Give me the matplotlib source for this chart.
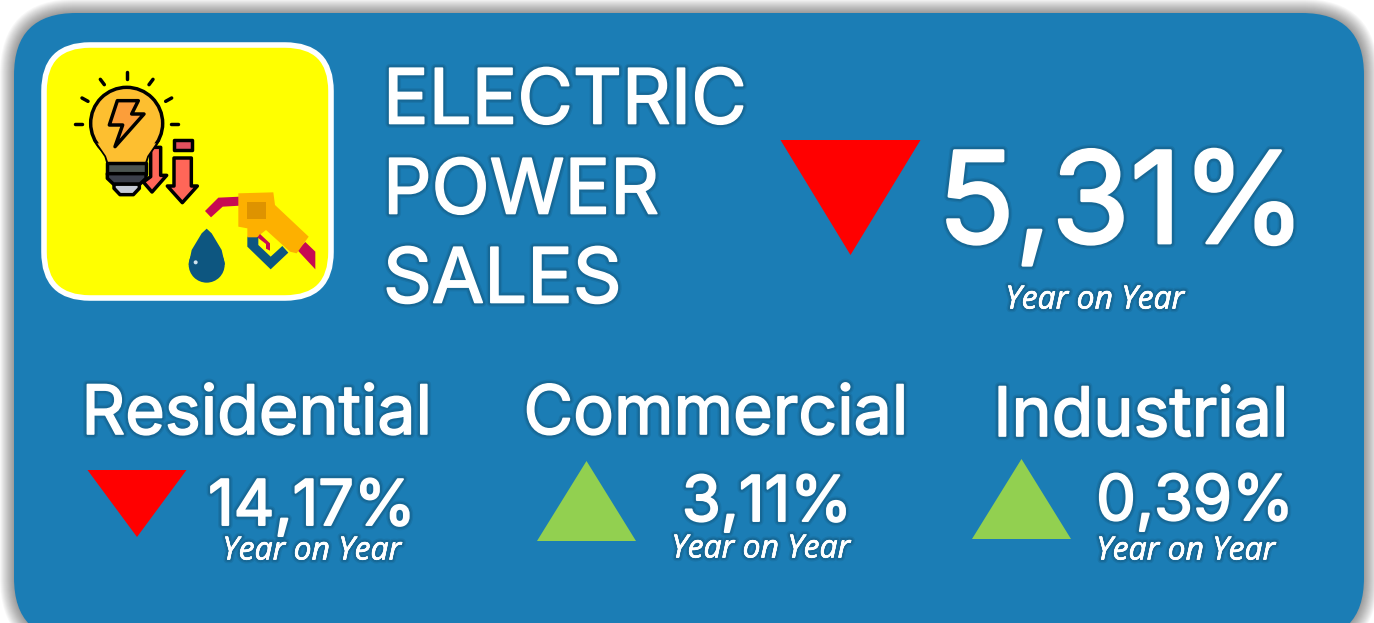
import matplotlib
matplotlib.use('Agg')
import matplotlib.pyplot as plt
import matplotlib.patheffects as pe
from matplotlib.patches import FancyBboxPatch, Polygon, Circle

plt.rcParams['font.family'] = ['Inter', 'Open Sans', 'DejaVu Sans']

# data
title_lines = ['ELECTRIC', 'POWER', 'SALES']
total_change = -5.31
period_label = 'Year on Year'
sectors = ['Residential', 'Commercial', 'Industrial']
sector_changes = [-14.17, 3.11, 0.39]

# colours
BLUE = '#1b7db5'
RED = '#ff0000'
GREEN = '#92d050'
YELLOW = '#ffff00'

fig = plt.figure(figsize=(13.74, 6.23), dpi=100)
ax = fig.add_axes([0, 0, 1, 1])
ax.set_xlim(0, 1374)
ax.set_ylim(623, 0)
ax.axis('off')


def glow(weight):
    # soft dark edge round the text, with a thin white stroke to make it heavier
    return [pe.withStroke(linewidth=weight + 5, foreground='black', alpha=0.07),
            pe.withStroke(linewidth=weight + 3, foreground='black', alpha=0.10),
            pe.withStroke(linewidth=weight, foreground='white')]


def px(size):
    # font size from pixels
    return size * 0.72


def fmt(v):
    return f'{abs(v):.2f}'.replace('.', ',') + '%'


def z(points):
    return [(30 + a / 3, 30 + b / 3) for a, b in points]


def rbox(x0, y0, x1, y1, r, **kw):
    p = FancyBboxPatch((x0, y0), x1 - x0, y1 - y0, boxstyle=f'round,pad=0,rounding_size={r}', **kw)
    ax.add_patch(p)
    return p


def triangle(cx, top, w, h, change):
    if change < 0:
        pts = [(cx - w / 2, top), (cx + w / 2, top), (cx, top + h)]
    else:
        pts = [(cx - w / 2, top + h), (cx + w / 2, top + h), (cx, top)]
    ax.add_patch(Polygon(pts, closed=True, fc=RED if change < 0 else GREEN, ec='none', zorder=3))


def poly(points, fc, ec='none', lw=0, zorder=5):
    ax.add_patch(Polygon(z(points), closed=True, fc=fc, ec=ec, lw=lw, zorder=zorder, joinstyle='round'))


# card with soft shadow
for i in range(14, 0, -1):
    rbox(14 - i, 13 - i, 1364 + i, 640 + i, 62 + i, fc='black', ec='none', alpha=0.032, zorder=1)
rbox(14, 13, 1364, 640, 62, fc=BLUE, ec='none', zorder=2)

# yellow icon tile
rbox(44, 45, 331, 298, 46, fc=YELLOW, ec='white', lw=4, zorder=3)

# arrows
arrow1 = [(362, 352), (392, 352), (392, 436), (410, 436), (366, 486), (340, 456), (362, 440)]
poly(arrow1, '#ff6658', 'black', 2.5, 4)
arrow2 = [(432, 384), (484, 384), (484, 468), (502, 468), (457, 518), (412, 468), (432, 468)]
poly(arrow2, '#ff6658', 'black', 2.5, 5)
poly([(431, 331), (485, 331), (485, 361), (431, 361)], '#e3505f', 'black', 2.5, 5)

# bulb: round head on a tapered neck
head = z([(290, 280)])[0]
neck = [(235, 402), (345, 402), (352, 378), (385, 330), (290, 300), (195, 330), (228, 378)]
poly(neck, '#fdbf30', 'black', 2.5, 6)
ax.add_patch(Circle(head, 36, fc='#fdbf30', ec='black', lw=2.5, zorder=6))
poly([(236, 402), (344, 402), (352, 378), (378, 340), (202, 340), (228, 378)], '#fdbf30', zorder=6)
poly([(262, 212), (325, 212), (305, 252), (342, 252), (255, 350), (278, 285), (238, 285)], '#fc9e3a', 'black', 2.5, 7)
poly([(232, 400), (348, 400), (348, 431), (232, 431)], '#4b5450', 'black', 2.5, 7)
poly([(232, 431), (348, 431), (348, 445), (330, 462), (250, 462), (232, 445)], '#3b3f4a', 'black', 2.5, 7)
poly([(252, 462), (328, 462), (328, 475), (310, 494), (270, 494), (252, 475)], '#c6cbd6', 'black', 2.5, 6)

# rays
rays = [((290, 127), (290, 146)), ((211, 148), (223, 164)), ((369, 148), (357, 164)), ((156, 204), (174, 214)),
        ((425, 204), (407, 214)), ((135, 281), (156, 281)), ((424, 281), (445, 281))]
for a, b in rays:
    pa, pb = z([a, b])
    ax.plot([pa[0], pb[0]], [pa[1], pb[1]], color='black', lw=2.5, solid_capstyle='round', zorder=6)

# fuel nozzle
poly([(525, 543), (565, 503), (630, 500), (630, 527), (578, 530), (543, 562)], '#c70a52')
poly([(652, 620), (685, 620), (685, 645), (722, 680), (757, 648), (775, 668), (722, 718), (652, 650)], '#0d5680')
poly([(690, 612), (720, 640), (720, 662), (708, 656), (708, 642), (682, 622)], '#c70a52', zorder=6)
poly([(625, 490), (730, 487), (735, 525), (836, 620), (800, 670), (780, 665), (708, 600), (680, 622), (652, 622),
      (652, 595), (625, 590)], '#fdb000', zorder=5)
poly([(652, 515), (708, 515), (708, 568), (652, 568)], '#de9300', zorder=6)
poly([(802, 660), (826, 636), (856, 665), (856, 718)], '#c70a52', zorder=4)

# drop
ax.add_patch(Circle(z([(530, 704)])[0], 18, fc='#0d5680', ec='none', zorder=5))
poly([(530, 596), (545, 610), (575, 660), (585, 704), (476, 704), (485, 660), (515, 610)], '#0d5680')
ax.add_patch(Circle(z([(497, 697)])[0], 2, fc='#cfe3ee', ec='none', zorder=6))

# title
for line, y in zip(title_lines, [96, 186, 275]):
    ax.text(383, y, line, fontsize=px(76), color='white', ha='left', va='center_baseline', path_effects=glow(1.2),
            zorder=4)

# headline figure
triangle(850.5, 140, 140, 115, total_change)
ax.text(1122, 197, fmt(total_change), fontsize=px(127), color='white', ha='center', va='center_baseline',
        path_effects=glow(2), zorder=4)
ax.text(1095, 300, period_label, fontsize=px(32), color='white', ha='center', va='center', style='italic',
        family=['Open Sans'], path_effects=glow(0.4), zorder=4)

# sectors
label_x = [257, 716, 1141]
label_y = [409, 409, 411]
tri_x = [137, 586.5, 1021.5]
tri_top = [470, 461, 459]
value_x = [312, 767, 1195]
value_y = [502, 498, 497]
period_x = [312, 761, 1186]
period_y = [551, 549, 551]
for i in range(len(sectors)):
    ax.text(label_x[i], label_y[i], sectors[i], fontsize=px(68), color='white', ha='center', va='center_baseline',
            path_effects=glow(1.2), zorder=4)
    h = 67 if sector_changes[i] < 0 else 80
    triangle(tri_x[i], tri_top[i], 99, h, sector_changes[i])
    ax.text(value_x[i], value_y[i], fmt(sector_changes[i]), fontsize=px(63), color='white', ha='center',
            va='center_baseline', path_effects=glow(1.4), zorder=4)
    ax.text(period_x[i], period_y[i], period_label, fontsize=px(32), color='white', ha='center', va='center',
            style='italic', family=['Open Sans'], path_effects=glow(0.4), zorder=5)

fig.savefig('out.png', dpi=100)
